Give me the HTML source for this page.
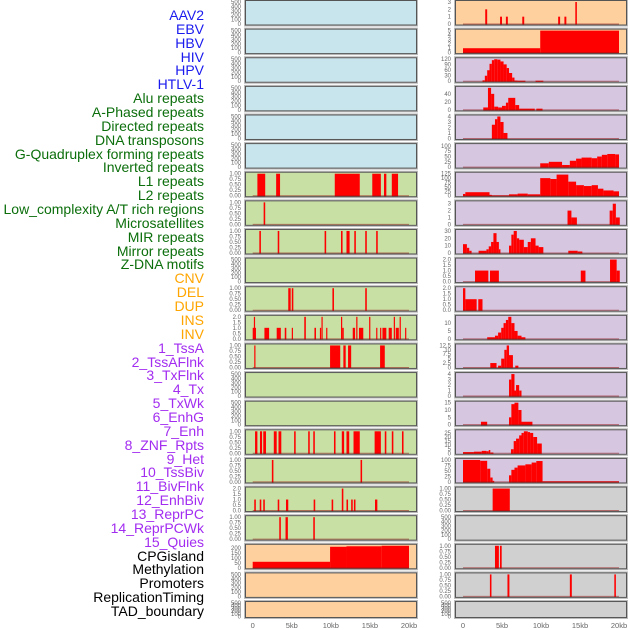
<!DOCTYPE html>
<html><head><meta charset="utf-8"><style>
html,body{margin:0;padding:0;background:#fff;width:630px;height:630px;overflow:hidden}
#lbls{position:absolute;left:0;top:0;width:204px}
.l{position:absolute;right:0;font:14px "Liberation Sans",sans-serif;white-space:nowrap;line-height:14px}
svg{position:absolute;left:0;top:0}
</style></head><body>
<div id="lbls"></div>
<svg id="chart" width="630" height="630"></svg>
<script>
const labelNames = ["AAV2","EBV","HBV","HIV","HPV","HTLV-1","Alu repeats","A-Phased repeats","Directed repeats","DNA transposons","G-Quadruplex forming repeats","Inverted repeats","L1 repeats","L2 repeats","Low_complexity A/T rich regions","Microsatellites","MIR repeats","Mirror repeats","Z-DNA motifs","CNV","DEL","DUP","INS","INV","1_TssA","2_TssAFlnk","3_TxFlnk","4_Tx","5_TxWk","6_EnhG","7_Enh","8_ZNF_Rpts","9_Het","10_TssBiv","11_BivFlnk","12_EnhBiv","13_ReprPC","14_ReprPCWk","15_Quies","CPGisland","Methylation","Promoters","ReplicationTiming","TAD_boundary"];
const labelGroups = [6,13,5,15,5];
const groupColors = ["#1a1aee","#0b6e0b","#ffa500","#a22cf0","#000000"];

const xTicks = [0,5,10,15,20];
const xTickLabels = ["0","5kb","10kb","15kb","20kb"];

// left-column panel segments [startKb, endKb, value]
const L7 = [[0.6,1.6,1],[3.0,3.5,1],[10.5,13.7,1],[15.3,16.4,1],[16.8,17.1,1],[17.8,18.6,1]];
const L8 = [[1.4,1.6,1]];
const L9 = [[0.85,1.05,1],[3.2,3.4,1],[9.2,9.4,1],[11.3,11.5,1],[12.0,12.4,1],[13.0,13.2,1],[14.4,14.6,1],[15.8,16.0,1]];
const L11 = [[4.55,4.86,1],[5.0,5.2,1],[10.2,10.4,1],[14.4,14.6,1]];
const L12 = [[0,0.42,1],[0.15,0.3,2],[1.5,2.1,1],[3.07,3.6,1],[4.1,4.3,1],[5.0,5.15,1],[6.6,6.8,2],[7.9,8.1,1],[8.6,8.75,1],[8.8,8.95,2],[9.4,9.55,1],[11.3,11.45,2],[11.45,11.65,1],[12.8,13.1,1],[13.25,13.4,2],[13.6,14.15,1],[14.9,15.05,2],[15.8,15.95,1],[16.3,16.45,1],[16.6,17.1,1],[17.4,17.8,1],[18.05,18.2,2],[18.3,18.7,1],[18.8,18.95,2],[19.5,19.65,1]];
const L13 = [[0.2,0.35,1],[9.9,11.2,1],[11.6,11.9,1],[12.2,12.6,1],[16.3,16.9,1]];
const L16 = [[0.3,0.6,1],[0.93,1.2,1],[1.35,1.7,1],[2.7,3.07,1],[3.3,3.66,1],[5.3,5.5,1],[7.1,7.3,1],[7.75,7.95,1],[10.4,10.6,1],[11.4,11.7,1],[12.0,12.35,1],[12.9,13.7,1],[15.6,16.4,1],[16.9,17.1,1],[17.8,18.0,1],[19.1,19.3,1]];
const L17 = [[2.45,2.65,1],[13.8,14.0,1]];
const L18 = [[0.2,0.4,1],[0.9,1.1,1],[1.35,1.55,1],[3.2,3.4,1],[4.26,4.55,1],[7.8,8.0,1],[10.1,10.3,1],[11.4,11.6,2],[12.0,12.2,1],[12.6,12.8,1],[12.95,13.15,1],[15.65,15.95,1]];
const L19 = [[3.4,3.6,1],[4.2,4.5,1],[7.75,7.95,1]];
const L20 = [[0,9.9,60],[9.9,12,210],[12,16.5,215],[16.5,20,220]];

// right-column panel segments
const R1 = [[2.85,3.1,2],[4.75,5.0,1],[5.5,5.75,1],[7.6,7.85,1],[12.2,12.45,1],[13.0,13.25,1],[14.4,14.6,3]];
const R2 = [[0,9.9,1],[9.9,20,5]];
const R3 = [[2.5,2.8,5],[2.8,3.1,30],[3.1,3.4,60],[3.4,3.7,95],[3.7,4.0,115],[4.0,4.4,120],[4.4,4.8,118],[4.8,5.2,108],[5.2,5.6,92],[5.6,5.9,72],[5.9,6.3,45],[6.3,6.6,20],[6.6,7.0,4],[7.0,8.0,3],[9.3,10.3,3]];
const R4 = [[2.6,3.2,6],[3.2,3.6,55],[3.6,4.0,40],[4.0,4.5,8],[4.5,5.0,6],[5.0,5.5,10],[5.5,5.8,18],[5.8,6.7,30],[6.7,7.2,12],[7.2,9.2,3],[9.4,10.2,3]];
const R5 = [[3.7,4.1,2.5],[4.1,4.4,3.5],[4.4,4.8,4],[4.8,5.2,3],[5.2,5.7,1]];
const R6 = [[9.9,11,18],[11,12.7,25],[12.7,13.7,10],[13.7,14.5,30],[14.5,15.2,40],[15.2,16.5,45],[16.5,17.2,42],[17.2,17.8,50],[17.8,18.5,58],[18.5,19.5,62],[19.5,20,60]];
const R7 = [[0,0.3,10],[0.3,3.4,20],[3.4,3.7,5],[3.7,5.9,2],[5.9,7,8],[7,8.3,12],[8.3,9.9,8],[9.9,11.2,100],[11.2,12,95],[12,13.5,120],[13.5,14.5,80],[14.5,15.5,60],[15.5,16.5,55],[16.5,17.3,60],[17.3,18,40],[18,19.3,30],[19.3,20,25]];
const R8 = [[13.4,13.9,2],[13.9,14.6,1],[18.8,19.2,2],[19.2,19.6,3],[19.6,20.1,1]];
const R9 = [[0,0.5,12],[0.5,0.8,7],[0.8,1.1,3],[2,3,3],[3,3.3,5],[3.3,3.6,9],[3.6,3.9,15],[3.9,4.3,27],[4.3,4.6,15],[4.6,4.8,5],[5.9,6.2,10],[6.2,6.5,25],[6.5,6.9,30],[6.9,7.2,20],[7.2,7.8,18],[7.8,8.3,8],[8.3,8.7,15],[8.7,9.3,20],[9.3,9.7,10],[9.7,10.3,8],[13.5,14.7,3],[14.7,15.3,2]];
const R10 = [[1.54,3.25,1],[3.46,4.6,1],[15.1,15.7,1],[18.85,19.7,2],[19.7,20.1,1]];
const R11 = [[0,0.3,2],[0.3,1.75,1],[1.96,2.5,1]];
const R12 = [[3.1,4.1,1],[4.1,4.5,2],[4.5,4.9,4],[4.9,5.2,7],[5.2,5.5,10],[5.5,5.8,12],[5.8,6.2,14],[6.2,6.6,10],[6.6,7.0,5],[7.0,7.5,2],[7.5,8.0,1]];
const R13 = [[3.5,4.3,2.5],[4.5,4.9,1],[4.9,5.3,5],[5.3,5.6,10],[5.6,5.9,12.5],[5.9,6.4,7],[6.7,7.1,1]];
const R14 = [[5.9,6.2,3],[6.2,6.6,4],[6.6,6.8,1],[6.8,7.2,2],[7.2,7.5,1]];
const R15 = [[2.3,3.1,2],[5.9,6.2,5],[6.2,6.6,14],[6.6,7.1,15],[7.1,7.5,10],[7.5,8.9,2]];
const R16 = [[0,1.4,1.5],[1.4,2.4,2],[2.4,3.0,3],[3.0,3.3,2.5],[3.3,3.5,4],[3.5,3.9,1],[6.15,6.5,5],[6.5,6.8,15],[6.8,7.2,18],[7.2,7.5,22],[7.5,7.8,25],[7.8,8.3,27],[8.3,8.6,26],[8.6,9.0,25],[9.0,9.5,20],[9.5,10.1,12]];
const R17 = [[0,2.2,100],[2.2,3.1,96],[3.1,3.5,60],[3.5,3.8,20],[3.8,4.0,5],[5.9,6.2,30],[6.2,6.6,55],[6.6,7.0,65],[7.0,8.0,75],[8.0,8.8,80],[8.8,9.4,88],[9.4,10.2,95],[10.2,20,3]];
const R18 = [[3.8,6.0,1]];
const R20 = [[4.1,4.6,1],[4.74,4.96,1]];
const R21 = [[3.45,3.65,1],[5.7,5.95,1],[13.7,13.95,1],[19.4,19.6,1]];

const tk500 = [0,100,200,300,400,500];
const tk1 = [0,0.25,0.5,0.75,1.0];
const tk2 = [0,0.5,1.0,1.5,2.0];
// [segments, ticks, domainMax, background]
const BLUE="#c8e4ec", GREEN="#c8e0a4", ORANGE="#fdd09e", PURPLE="#d6c6e0", GRAY="#d0d0d0";
const leftPanels = [
 [null,tk500,500,BLUE],[null,tk500,500,BLUE],[null,tk500,500,BLUE],[null,tk500,500,BLUE],[null,tk500,500,BLUE],[null,tk500,500,BLUE],
 [L7,tk1,1,GREEN],[L8,tk1,1,GREEN],[L9,tk1,1,GREEN],[null,tk500,500,GREEN],[L11,tk1,1,GREEN],[L12,tk2,2,GREEN],[L13,tk1,1,GREEN],
 [null,tk500,500,GREEN],[null,tk500,500,GREEN],[L16,tk1,1,GREEN],[L17,tk1,1,GREEN],[L18,tk2,2,GREEN],[L19,tk1,1,GREEN],
 [L20,[0,50,100,150,200],220,ORANGE],[null,tk500,500,ORANGE],[null,tk500,500,ORANGE]];
const rightPanels = [
 [R1,[0,1,2,3],3,ORANGE],[R2,[0,1,2,3,4,5],5,ORANGE],[R3,[0,30,60,90,120],120,PURPLE],[R4,[0,20,40],55,PURPLE],[R5,[0,1,2,3,4],4,PURPLE],
 [R6,[0,25,50,75,100],104,PURPLE],[R7,[0,25,50,75,100,125],125,PURPLE],[R8,[0,1,2,3],3.2,PURPLE],[R9,[0,10,20,30],30,PURPLE],
 [R10,tk2,2,PURPLE],[R11,tk2,2,PURPLE],[R12,[0,5,10],14,PURPLE],[R13,[0,2.5,5,7.5,10,12.5],12.5,PURPLE],[R14,[0,1,2,3,4],4,PURPLE],
 [R15,[0,5,10,15],15,PURPLE],[R16,[0,5,10,15,20,25],27,PURPLE],[R17,[0,25,50,75,100],100,PURPLE],[R18,tk1,1,GRAY],
 [null,tk500,500,GRAY],[R20,tk1,1,GRAY],[R21,tk1,1,GRAY],[null,tk500,500,GRAY]];

const NS="http://www.w3.org/2000/svg";
const svg=document.getElementById('chart');
function mk(tag,attrs,parent){const e=document.createElementNS(NS,tag);for(const k in attrs)e.setAttribute(k,attrs[k]);(parent||svg).appendChild(e);return e;}

// labels
const lbls=document.getElementById('lbls');
let gi=0,cnt=0;
labelNames.forEach((n,i)=>{
  const d=document.createElement('div');
  d.className='l';
  
  
  d.style.top=(8+i*13.86)+'px';
  d.style.color=groupColors[gi];
  d.textContent=n;
  lbls.appendChild(d);
  cnt++; if(cnt>=labelGroups[gi]){gi++;cnt=0;}
});

const cols=[{x0:245.5,w:171,z:252.7,kb:7.815,panels:leftPanels,tx:241,name:'left'},
            {x0:455.5,w:171,z:463,kb:7.8,panels:rightPanels,tx:451,name:'right'}];
function fmt(t,ticks){const dec=ticks.some(v=>Math.abs(v-Math.round(v))>1e-9&&Math.abs(v*2-Math.round(v*2))>1e-9)?2:(ticks.some(v=>v%1!==0)?(ticks[ticks.length-1]>=2?1:2):0);
  if(ticks===tk1)return t.toFixed(2); if(ticks===tk2)return t.toFixed(1); return (t%1!==0)?t.toFixed(1):String(t);}
cols.forEach(c=>{
  const xs=kb=>c.z+kb*c.kb;
  c.panels.forEach((p,i)=>{
    const [segs,ticks,dmax,bg]=p;
    const top=i*28.62+0.5, h=(i===21?16:24.5), bottom=top+h;
    const ys=v=>bottom-1-v/dmax*(h-2.5);
    const g=mk('g',{});
    
    
    mk('rect',{x:c.x0-1,y:top-1,width:c.w+2,height:h+2,fill:'none',stroke:'#bbb','stroke-width':1},g);
    mk('rect',{x:c.x0,y:top,width:c.w,height:h,fill:bg},g);
    if(segs){
      segs.forEach(s=>{
        const r=mk('rect',{x:xs(s[0]),y:ys(s[2]),width:Math.max(1.2,xs(s[1])-xs(s[0])),height:bottom-ys(s[2]),fill:'#ff0000'},g);
        
        
      });
      mk('line',{x1:xs(0),x2:xs(20),y1:bottom-1,y2:bottom-1,stroke:'rgba(150,20,20,0.55)','stroke-width':1},g);
    }
    mk('rect',{x:c.x0,y:top,width:c.w,height:h,fill:'none',stroke:'#555','stroke-width':1},g);
    ticks.forEach(t=>{
      const tt=mk('text',{x:c.tx,y:ys(t)+2,'text-anchor':'end','font-size':6,'font-family':'Liberation Sans, sans-serif',fill:'#666'},g);
      
      
      tt.textContent=fmt(t,ticks);
    });
  });
  xTicks.forEach((t,j)=>{
    const tt=mk('text',{x:xs(t),y:628,'text-anchor':'middle','font-size':7.5,'font-family':'Liberation Sans, sans-serif',fill:'#666'});
    
    
    tt.textContent=xTickLabels[j];
  });
});
</script>
</body></html>
